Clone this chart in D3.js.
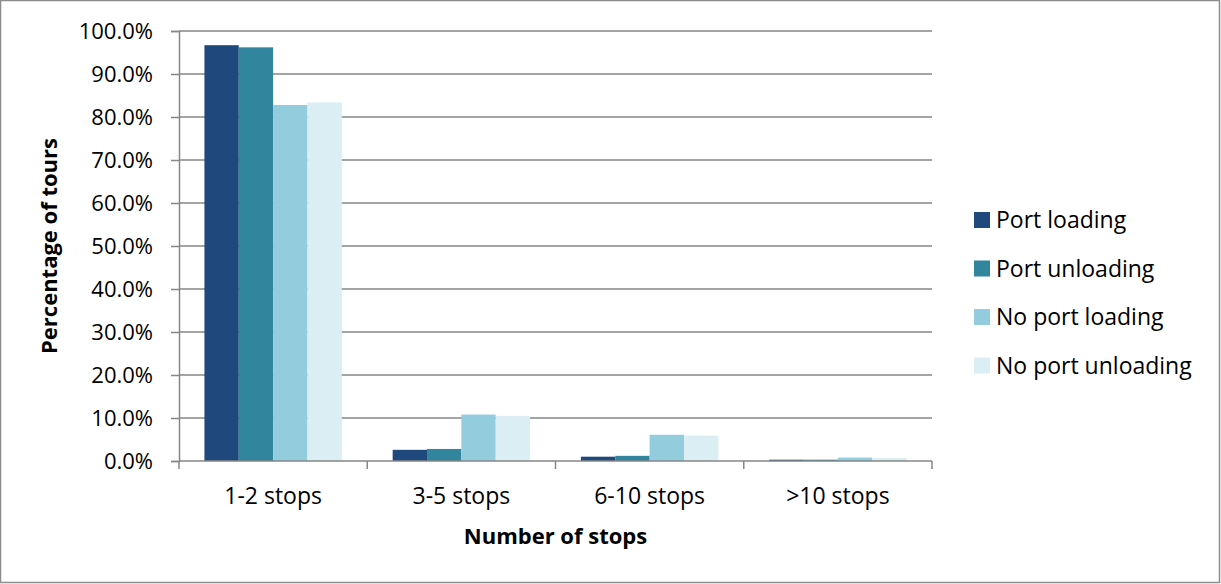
<html><head>
<script src="https://d3js.org/d3.v7.min.js"></script>
<style>
  body { margin: 0; background: #fff; }
  text { font-family: "Open Sans", Lato, sans-serif; fill: #000; }
  .tick-lbl { font-size: 23px; }
  .y-lbl { font-size: 22px; }
  .title { font-size: 22px; font-weight: bold; }
</style>
</head>
<body>
<svg id="chart" width="1221" height="584"></svg>
<script>
  // values (fractions of tours)
  const categories = ["1-2 stops", "3-5 stops", "6-10 stops", ">10 stops"];
  const seriesNames = ["Port loading", "Port unloading", "No port loading", "No port unloading"];
  const portLoading = [0.967, 0.026, 0.010, 0.003];
  const portUnloading = [0.962, 0.028, 0.012, 0.003];
  const noPortLoading = [0.828, 0.108, 0.061, 0.008];
  const noPortUnloading = [0.834, 0.105, 0.059, 0.007];
  const yTicks = [0, 0.1, 0.2, 0.3, 0.4, 0.5, 0.6, 0.7, 0.8, 0.9, 1.0];
  const colors = ["#1f497d", "#31859c", "#93cddd", "#dbeef4"];

  const allSeries = [portLoading, portUnloading, noPortLoading, noPortUnloading];

  const svg = d3.select("#chart");
  const margin = { top: 31, left: 179, right: 289, bottom: 123 };
  const width = 1221 - margin.left - margin.right;
  const height = 584 - margin.top - margin.bottom;

  // outer frame
  svg.append("rect").attr("x", 0.5).attr("y", 0.5)
     .attr("width", 1219).attr("height", 582)
     .attr("fill", "white").attr("stroke", "#8c8c8c").attr("stroke-width", 1.5);

  const g = svg.append("g").attr("transform", `translate(${margin.left},${margin.top})`);

  const x0 = d3.scaleBand().domain(categories).range([0, width]).paddingInner(0.27).paddingOuter(0.135);
  const x1 = d3.scaleBand().domain(seriesNames).range([0, x0.bandwidth()]);
  const y = d3.scaleLinear().domain([0, 1]).range([height, 0]);

  // gridlines
  g.selectAll("line.grid").data(yTicks.slice(1))
   .join("line").attr("class", "grid")
   .attr("x1", 0).attr("x2", width)
   .attr("y1", d => y(d)).attr("y2", d => y(d))
   .attr("stroke", "#868686").attr("stroke-width", 1.5);

  // bars
  const groups = g.selectAll("g.cat").data(categories)
    .join("g").attr("class", "cat")
    .attr("transform", d => `translate(${x0(d)},0)`);

  groups.selectAll("rect").data((c, ci) => seriesNames.map((s, si) => ({ s, si, v: allSeries[si][ci] })))
    .join("rect")
    .attr("x", d => x1(d.s))
    .attr("width", x1.bandwidth())
    .attr("y", d => y(d.v))
    .attr("height", d => height - y(d.v))
    .attr("fill", d => colors[d.si]);

  // y axis
  const yAxis = g.append("g")
    .call(d3.axisLeft(y).tickValues(yTicks).tickFormat(d3.format(".1%")).tickSize(8).tickPadding(18));
  yAxis.select(".domain").attr("stroke", "#868686").attr("stroke-width", 1.5);
  yAxis.selectAll(".tick line").attr("stroke", "#868686").attr("stroke-width", 1.5);
  yAxis.selectAll(".tick text").attr("class", "y-lbl").attr("font-size", null).attr("font-family", null);

  // x axis
  const xAxisG = g.append("g").attr("transform", `translate(0,${height})`);
  xAxisG.append("line").attr("x1", 0).attr("x2", width).attr("y1", 0).attr("y2", 0)
    .attr("stroke", "#868686").attr("stroke-width", 1.5);
  const bounds = d3.range(categories.length + 1).map(i => i * width / categories.length);
  xAxisG.selectAll("line.tk").data(bounds).join("line").attr("class", "tk")
    .attr("x1", d => d).attr("x2", d => d).attr("y1", 0).attr("y2", 8)
    .attr("stroke", "#868686").attr("stroke-width", 1.5);
  xAxisG.selectAll("text.tick-lbl").data(categories).join("text")
    .attr("class", "tick-lbl")
    .attr("x", d => x0(d) + x0.bandwidth() / 2)
    .attr("y", 43)
    .attr("text-anchor", "middle")
    .text(d => d);

  // axis titles
  svg.append("text").attr("class", "title")
    .attr("transform", `translate(57,${margin.top + height / 2}) rotate(-90)`)
    .attr("text-anchor", "middle").text("Percentage of tours");
  svg.append("text").attr("class", "title")
    .attr("x", margin.left + width / 2).attr("y", 544)
    .attr("text-anchor", "middle").text("Number of stops");

  // legend
  const legend = svg.append("g").attr("transform", "translate(974,212)");
  const items = legend.selectAll("g").data(seriesNames).join("g")
    .attr("transform", (d, i) => `translate(0,${i * 48.5})`);
  items.append("rect").attr("width", 16).attr("height", 16).attr("fill", (d, i) => colors[i]);
  items.append("text").attr("class", "tick-lbl").attr("x", 22).attr("y", 16).text(d => d);
</script>
</body>
</html>
